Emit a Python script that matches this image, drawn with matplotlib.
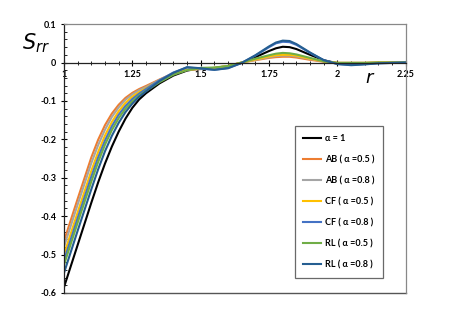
import matplotlib
matplotlib.use("Agg")
import matplotlib.pyplot as plt
from matplotlib.ticker import MultipleLocator, FixedLocator

# radial positions
r = [1.00, 1.05, 1.10, 1.125, 1.15, 1.175, 1.20, 1.225, 1.25, 1.275, 1.30, 1.35, 1.40, 1.45,
     1.50, 1.55, 1.60, 1.65, 1.70, 1.75, 1.775, 1.80, 1.825, 1.85, 1.90, 1.95, 2.00,
     2.05, 2.10, 2.15, 2.20, 2.25]

s_alpha1 = [-0.585, -0.475, -0.365, -0.312, -0.263, -0.219, -0.180, -0.146, -0.118, -0.096,
            -0.080, -0.054, -0.034, -0.021, -0.015, -0.015, -0.011, -0.001, 0.014, 0.030,
            0.037, 0.041, 0.040, 0.035, 0.020, 0.006, -0.002, -0.003, -0.002, -0.001, 0.000, 0.000]
s_ab05 = [-0.465, -0.355, -0.247, -0.201, -0.163, -0.133, -0.110, -0.092, -0.079, -0.069,
          -0.061, -0.044, -0.028, -0.019, -0.017, -0.014, -0.009, 0.000, 0.006, 0.012,
          0.014, 0.015, 0.015, 0.013, 0.007, 0.002, -0.001, -0.001, -0.001, 0.000, 0.000, 0.000]
s_ab08 = [-0.480, -0.370, -0.262, -0.215, -0.175, -0.142, -0.117, -0.097, -0.083, -0.072,
          -0.064, -0.045, -0.029, -0.019, -0.017, -0.014, -0.009, 0.000, 0.007, 0.014,
          0.017, 0.018, 0.018, 0.016, 0.009, 0.003, -0.001, -0.001, -0.001, 0.000, 0.000, 0.000]
s_cf05 = [-0.500, -0.390, -0.282, -0.233, -0.190, -0.155, -0.127, -0.105, -0.089, -0.077,
          -0.067, -0.047, -0.030, -0.019, -0.016, -0.014, -0.009, 0.000, 0.008, 0.016,
          0.019, 0.020, 0.020, 0.018, 0.010, 0.003, -0.001, -0.001, -0.001, 0.000, 0.000, 0.000]
s_cf08 = [-0.515, -0.405, -0.297, -0.247, -0.203, -0.166, -0.136, -0.113, -0.095, -0.081,
          -0.069, -0.046, -0.026, -0.013, -0.016, -0.019, -0.014, -0.001, 0.018, 0.040,
          0.050, 0.054, 0.053, 0.046, 0.025, 0.006, -0.004, -0.006, -0.004, -0.002, -0.001, 0.000]
s_rl05 = [-0.527, -0.417, -0.310, -0.259, -0.214, -0.176, -0.145, -0.120, -0.101, -0.086,
          -0.074, -0.051, -0.032, -0.020, -0.014, -0.013, -0.009, 0.000, 0.010, 0.019,
          0.023, 0.025, 0.024, 0.021, 0.012, 0.003, -0.001, -0.001, -0.001, 0.000, 0.000, 0.000]
s_rl08 = [-0.548, -0.438, -0.330, -0.278, -0.231, -0.191, -0.157, -0.129, -0.107, -0.089,
          -0.075, -0.048, -0.027, -0.012, -0.015, -0.019, -0.015, -0.001, 0.019, 0.042,
          0.052, 0.057, 0.056, 0.048, 0.026, 0.006, -0.004, -0.007, -0.005, -0.002, -0.001, 0.000]

labels = ["α = 1", "AB ( α =0.5 )", "AB ( α =0.8 )", "CF ( α =0.5 )",
          "CF ( α =0.8 )", "RL ( α =0.5 )", "RL ( α =0.8 )"]
colors = ["#000000", "#ED7D31", "#A5A5A5", "#FFC000", "#4472C4", "#70AD47", "#255E91"]
series = [s_alpha1, s_ab05, s_ab08, s_cf05, s_cf08, s_rl05, s_rl08]

x_ticks = [1, 1.25, 1.5, 1.75, 2, 2.25]
x_ticklabels = ["1", "1.25", "1.5", "1.75", "2", "2.25"]
y_ticks = [-0.6, -0.5, -0.4, -0.3, -0.2, -0.1, 0, 0.1]
y_ticklabels = ["-0.6", "-0.5", "-0.4", "-0.3", "-0.2", "-0.1", "0", "0.1"]

plt.rcParams['font.family'] = ['Lato', 'DejaVu Sans']

fig = plt.figure(figsize=(4.57, 3.13), dpi=100)
ax = fig.add_axes([0.140, 0.064, 0.748, 0.859])

for s, c, lab in zip(series, colors, labels):
    ax.plot(r, s, color=c, lw=1.5, label=lab)

ax.set_xlim(1, 2.25)
ax.set_ylim(-0.6, 0.1)

# x axis crosses at zero
ax.spines['bottom'].set_position(('data', 0))
ax.spines['bottom'].set_color('#222222')
ax.spines['left'].set_color('#222222')
ax.spines['top'].set_color('#888888')
ax.spines['right'].set_color('#888888')
for sp in ax.spines.values():
    sp.set_linewidth(0.9)
ax.plot([0, 1], [0, 0], transform=ax.transAxes, color='#555555', lw=1.0, clip_on=False)

ax.xaxis.set_major_locator(FixedLocator(x_ticks))
ax.set_xticklabels(x_ticklabels, fontsize=6.5, fontweight='bold')
ax.xaxis.set_minor_locator(MultipleLocator(0.05))
ax.yaxis.set_major_locator(FixedLocator(y_ticks))
ax.set_yticklabels(y_ticklabels, fontsize=6.5, fontweight='bold')
ax.yaxis.set_minor_locator(MultipleLocator(0.02))
ax.tick_params(axis='x', which='major', direction='inout', length=5, width=0.8, pad=3)
ax.tick_params(axis='x', which='minor', direction='inout', length=3, width=0.6)
ax.tick_params(axis='y', which='major', direction='inout', length=5, width=0.8, pad=3)
ax.tick_params(axis='y', which='minor', direction='in', length=2.5, width=0.6)

fig.text(0.048, 0.862, r"$S_{rr}$", fontsize=15, va='center', ha='left')
fig.text(0.81, 0.75, r"$r$", fontsize=13, va='center', ha='center')

leg = ax.legend(loc='upper left', bbox_to_anchor=(0.675, 0.621), borderaxespad=0,
                fancybox=False, edgecolor='#444444', prop={'size': 6.5, 'weight': 'bold'},
                labelspacing=1.33, handlelength=2.0, handletextpad=0.45, borderpad=0.9)
leg.get_frame().set_linewidth(0.9)

fig.savefig("out.png", dpi=100)
